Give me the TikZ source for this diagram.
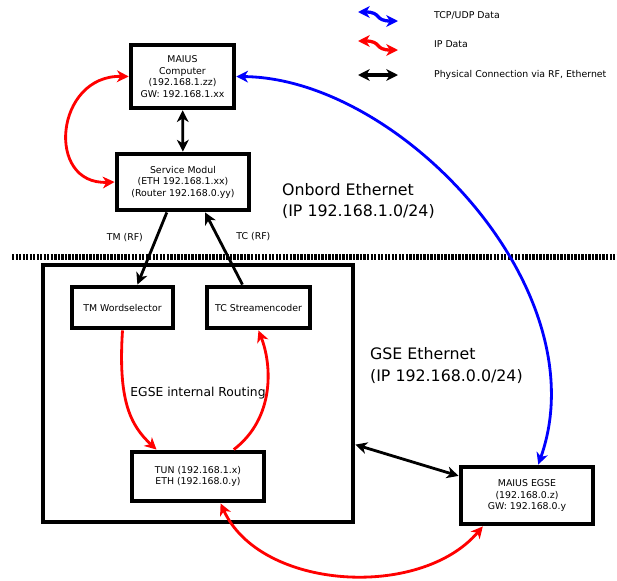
\documentclass[tikz,border=0pt]{standalone}
\usepackage{fontspec}
\setmainfont{DejaVu Sans}
\usetikzlibrary{arrows.meta}
\definecolor{ipred}{RGB}{255,0,0}
\definecolor{tcpblue}{RGB}{0,0,255}

\begin{document}
\begin{tikzpicture}[x=0.03cm,y=-0.03cm,
    >={Stealth[length=10pt,width=10pt,inset=3pt]},
    box/.style={draw,line width=3.6pt,align=center,inner sep=0pt,font=\fontsize{8}{9.8}\selectfont},
    frame/.style={draw,line width=3.4pt,inner sep=0pt},
    phys/.style={line width=2.4pt},
    ipdata/.style={line width=2.4pt,ipred},
    tcpdata/.style={line width=2.4pt,tcpblue},
    small/.style={font=\fontsize{8}{9.8}\selectfont},
    netlabel/.style={anchor=west,align=left,font=\fontsize{13.5}{18.5}\selectfont},
    legtext/.style={anchor=west,font=\fontsize{8}{9.8}\selectfont}]
    \useasboundingbox (0,0) rectangle (617,580);

    % legend
    \coordinate (tcpA) at (358,12);
    \coordinate (tcpB) at (398,21);
    \coordinate (ipA) at (358,41);
    \coordinate (ipB) at (398,50);
    \coordinate (physA) at (358,75);
    \coordinate (physB) at (398,75);
    \draw[tcpdata,line width=2.8pt,<->] (tcpA) .. controls +(24,0) and +(-24,0) .. (tcpB);
    \draw[ipdata,line width=2.8pt,<->] (ipA) .. controls +(24,0) and +(-24,0) .. (ipB);
    \draw[phys,line width=2.8pt,<->] (physA) -- (physB);
    \node[legtext] (tcptext) at (430,15) {TCP/UDP Data};
    \node[legtext] (iptext) at (430,44) {IP Data};
    \node[legtext] (phystext) at (430,75) {Physical Connection via RF, Ethernet};

    % onboard side
    \node[box,minimum width=3.1cm,minimum height=1.9cm] (comp) at (182.5,76.5)
        {MAIUS\\Computer\\(192.168.1.zz)\\GW: 192.168.1.xx};
    \node[box,minimum width=3.98cm,minimum height=1.7cm] (svc) at (183,182)
        {Service Modul\\(ETH 192.168.1.xx)\\(Router 192.168.0.yy)};
    \node[netlabel] (onbord) at (278,201) {Onbord Ethernet\\(IP 192.168.1.0/24)};

    \draw[phys,<->] (comp) -- (svc);
    \draw[ipdata,<->] (comp.west) .. controls (55,75) and (45,185) .. (svc.west);

    % separation line
    \coordinate (cutL) at (12,257);
    \coordinate (cutR) at (617,257);
    \draw[line width=4.5pt,dash pattern=on 2pt off 1pt] (cutL) -- (cutR);

    % ground side
    \node[frame,minimum width=9.32cm,minimum height=7.73cm] (gse) at (198,393.5) {};
    \node[box,minimum width=3.05cm,minimum height=1.25cm] (tmws) at (122.5,307.5) {TM Wordselector};
    \node[box,minimum width=3.11cm,minimum height=1.25cm] (tcse) at (258.5,307.5) {TC Streamencoder};
    \node[box,minimum width=3.98cm,minimum height=1.49cm] (tun) at (198,476.5)
        {TUN (192.168.1.x)\\ETH (192.168.0.y)};
    \node[box,minimum width=3.98cm,minimum height=1.73cm] (egse) at (527,495.5)
        {MAIUS EGSE\\(192.168.0.z)\\GW: 192.168.0.y};
    \node[font=\fontsize{10.5}{12}\selectfont] (routing) at (198,393) {EGSE internal Routing};
    \node[netlabel] (gsenet) at (366,365.5) {GSE Ethernet\\(IP 192.168.0.0/24)};

    \draw[phys,->] (svc.242) -- (tmws.57) node[small,pos=0.35,left=0.25cm] (tmrf) {TM (RF)};
    \draw[phys,->] (tcse.125) -- (svc.306) node[small,pos=0.66,right=0.4cm] (tcrf) {TC (RF)};
    \draw[ipdata,->] (tmws.south) .. controls (118,400) and (130,425) .. (tun.147);
    \draw[ipdata,->] (tun.37) .. controls (275,418) and (272,365) .. (tcse.south);
    \draw[phys,<->] (gse.342) -- (egse.164);
    \draw[tcpdata,<->] (comp.east) .. controls (400,78) and (600,290) .. (egse.70);
    \draw[ipdata,<->] (tun.310) .. controls (260,590) and (420,600) .. (egse.215);
\end{tikzpicture}
\end{document}
